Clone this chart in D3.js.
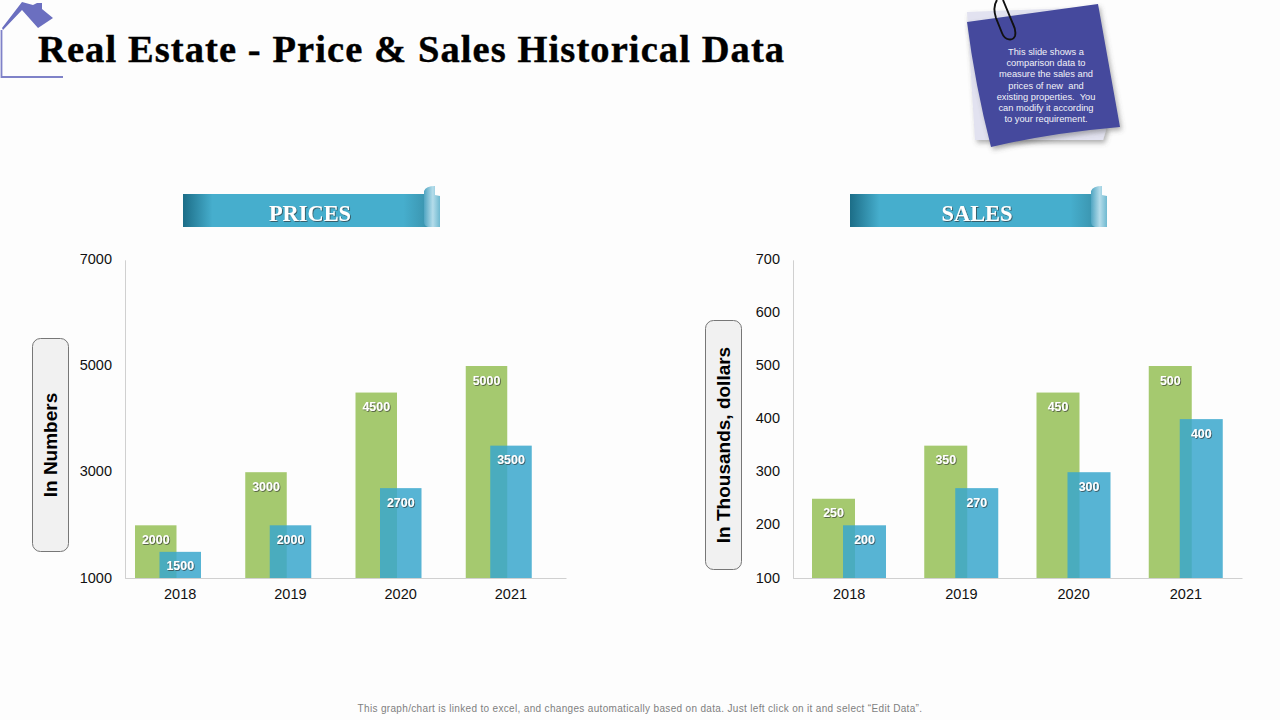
<!DOCTYPE html>
<html>
<head>
    <meta charset="UTF-8">
    <style>
        html, body { margin: 0; padding: 0; background: #fdfdfd; }
        svg { display: block; }
        .tick text { font-family: "Liberation Sans", sans-serif; font-size: 14.5px; fill: #111; }
        .val { font-family: "Liberation Sans", sans-serif; font-size: 13.5px; font-weight: bold; fill: #fff; text-anchor: middle; filter: url(#txtShadow); }
    </style>
</head>
<body>
    <script src="https://cdnjs.cloudflare.com/ajax/libs/d3/7.8.5/d3.min.js"></script>
    <script>
        var years = ["2018", "2019", "2020", "2021"];
        var priceOld = [2000, 3000, 4500, 5000];
        var priceNew = [1500, 2000, 2700, 3500];
        var salesOld = [250, 350, 450, 500];
        var salesNew = [200, 270, 300, 400];
        var priceTicks = [1000, 3000, 5000, 7000];
        var salesTicks = [100, 200, 300, 400, 500, 600, 700];
        var noteLines = ["This slide shows a", "comparison data to", "measure the sales and", "prices of new  and",
            "existing properties.  You", "can modify it according", "to your requirement."];

        var svg = d3.select("body").append("svg").attr("width", 1280).attr("height", 720);
        var defs = svg.append("defs");

        var txtShadow = defs.append("filter").attr("id", "txtShadow").attr("x", "-20%").attr("y", "-20%").attr("width", "140%").attr("height", "140%");
        txtShadow.append("feDropShadow").attr("dx", 0.8).attr("dy", 0.8).attr("stdDeviation", 0.6).attr("flood-color", "#333").attr("flood-opacity", 0.8);
        var noteShadow = defs.append("filter").attr("id", "noteShadow").attr("x", "-20%").attr("y", "-20%").attr("width", "140%").attr("height", "140%");
        noteShadow.append("feDropShadow").attr("dx", 2).attr("dy", 3).attr("stdDeviation", 2.5).attr("flood-color", "#555").attr("flood-opacity", 0.45);

        var ribbon = defs.append("linearGradient").attr("id", "ribbon");
        ribbon.append("stop").attr("offset", "0").attr("stop-color", "#1c6d87");
        ribbon.append("stop").attr("offset", "0.12").attr("stop-color", "#46aecd");
        ribbon.append("stop").attr("offset", "0.9").attr("stop-color", "#46aecd");
        ribbon.append("stop").attr("offset", "1").attr("stop-color", "#3a93ad");
        var curl = defs.append("linearGradient").attr("id", "curl");
        curl.append("stop").attr("offset", "0").attr("stop-color", "#4fa5c2");
        curl.append("stop").attr("offset", "0.55").attr("stop-color", "#b4dcea");
        curl.append("stop").attr("offset", "1").attr("stop-color", "#6fb9d0");

        // house icon
        svg.append("path")
            .attr("d", "M1.5,30V77H63")
            .attr("fill", "none").attr("stroke", "#7f82c8").attr("stroke-width", 1.8);
        svg.append("path")
            .attr("d", "M2,28L22,2L33,5L37,3L42,3L42,9L53,18L38,28L22,10L3,30Z")
            .attr("fill", "#6b6fc0");

        svg.append("text").attr("x", 38).attr("y", 62)
            .attr("font-family", "'Liberation Serif', serif").attr("font-weight", "bold")
            .attr("font-size", 38.5).attr("letter-spacing", 1.09).attr("fill", "#000")
            .attr("stroke", "#000").attr("stroke-width", 0.4)
            .text("Real Estate - Price & Sales Historical Data");

        // sticky note
        svg.append("path").attr("d", "M967,12L1075,8L1106,130L1103,140L975,140Z")
            .attr("fill", "#e2e2f0").attr("filter", "url(#noteShadow)");
        svg.append("path").attr("d", "M967,22L1098,4L1120,127Q1050,133 991,147Q975,85 967,22Z")
            .attr("fill", "#444a9d").attr("filter", "url(#noteShadow)");
        svg.append("path")
            .attr("d", "M997,0C993,6 994,12 996,18L1002,33C1005,41 1013,41 1015,36C1016,32 1015,28 1013,24L1003,0")
            .attr("fill", "none").attr("stroke", "#111").attr("stroke-width", 1.9);
        svg.append("g").selectAll("text").data(noteLines).enter().append("text")
            .attr("x", 1046).attr("y", (d, i) => 55 + i * 11.2)
            .attr("text-anchor", "middle").style("white-space", "pre")
            .attr("font-family", "'Liberation Sans', sans-serif").attr("font-size", 9.3).attr("fill", "#f2f2f8")
            .text(d => d);

        function banner(x, label) {
            var g = svg.append("g").attr("transform", `translate(${x},0)`);
            g.append("rect").attr("x", 0).attr("y", 194).attr("width", 245).attr("height", 33).attr("fill", "url(#ribbon)");
            g.append("path").attr("d", "M241,191Q243,186 252,186V195L257,196V227H245Q241,226 241,222Z").attr("fill", "url(#curl)");
            g.append("text").attr("x", 127).attr("y", 220.5).attr("text-anchor", "middle")
                .attr("font-family", "'Liberation Serif', serif").attr("font-weight", "bold").attr("font-size", 22.4)
                .attr("fill", "#fff").attr("filter", "url(#txtShadow)")
                .text(label);
        }
        banner(183, "PRICES");
        banner(850, "SALES");

        function axisTag(x, y, w, h, label) {
            svg.append("rect").attr("x", x).attr("y", y).attr("width", w).attr("height", h).attr("rx", 8)
                .attr("fill", "#f1f1f1").attr("stroke", "#777").attr("stroke-width", 1);
            svg.append("text")
                .attr("transform", `translate(${x + w / 2 + 6.5},${y + h / 2}) rotate(-90)`)
                .attr("text-anchor", "middle")
                .attr("font-family", "'Liberation Sans', sans-serif").attr("font-size", 19).attr("font-weight", "bold").attr("fill", "#000")
                .text(label);
        }
        axisTag(32.5, 338.5, 36, 213, "In Numbers");
        axisTag(705.5, 320.5, 36, 249, "In Thousands, dollars");

        function drawChart(left, right, domain, ticks, oldVals, newVals, oldStart, newStart, barW) {
            var x = d3.scaleBand().domain(years).range([left, right]);
            var y = d3.scaleLinear().domain(domain).range([578.4, 259.8]);
            var g = svg.append("g");

            // bars sit left of the band centre, as in the original
            g.selectAll(".old").data(oldVals).enter().append("rect").attr("class", "old")
                .attr("x", (d, i) => x(years[i]) + oldStart)
                .attr("y", d => y(d))
                .attr("width", barW)
                .attr("height", d => y(domain[0]) - y(d))
                .attr("fill", "#a5c96f");
            g.selectAll(".new").data(newVals).enter().append("rect").attr("class", "new")
                .attr("x", (d, i) => x(years[i]) + newStart)
                .attr("y", d => y(d))
                .attr("width", barW)
                .attr("height", d => y(domain[0]) - y(d))
                .attr("fill", "#39a7cc").attr("fill-opacity", 0.85);

            g.selectAll(".oldv").data(oldVals).enter().append("text").attr("class", "val oldv")
                .attr("x", (d, i) => x(years[i]) + oldStart + barW / 2)
                .attr("y", d => y(d) + 18.5)
                .attr("textLength", d => String(d).length * 6.9).attr("lengthAdjust", "spacingAndGlyphs")
                .text(d => d);
            g.selectAll(".newv").data(newVals).enter().append("text").attr("class", "val newv")
                .attr("x", (d, i) => x(years[i]) + newStart + barW / 2)
                .attr("y", d => y(d) + 18.5)
                .attr("textLength", d => String(d).length * 6.9).attr("lengthAdjust", "spacingAndGlyphs")
                .text(d => d);

            var xAxis = d3.axisBottom(x).tickSize(0).tickPadding(11);
            var gx = svg.append("g").attr("transform", "translate(0,578)").call(xAxis);
            gx.select(".domain").attr("stroke", "#d0d0d0");
            var yAxis = d3.axisLeft(y).tickValues(ticks).tickSize(0).tickPadding(13).tickFormat(d3.format("d"));
            var gy = svg.append("g").attr("transform", `translate(${left},0)`).call(yAxis);
            gy.select(".domain").attr("stroke", "#d0d0d0");
            gy.selectAll(".tick text").attr("dy", "0.25em");
        }
        drawChart(125, 566, [1000, 7000], priceTicks, priceOld, priceNew, 10, 34.5, 41.5);
        drawChart(793, 1242, [100, 700], salesTicks, salesOld, salesNew, 19, 50, 43);

        svg.append("text").attr("x", 640).attr("y", 712).attr("text-anchor", "middle")
            .attr("font-family", "'Liberation Sans', sans-serif").attr("font-size", 10).attr("letter-spacing", 0.33).attr("fill", "#7f7f7f")
            .text("This graph/chart is linked to excel, and changes automatically based on data. Just left click on it and select \u201CEdit Data\u201D.");
    </script>
</body>
</html>
